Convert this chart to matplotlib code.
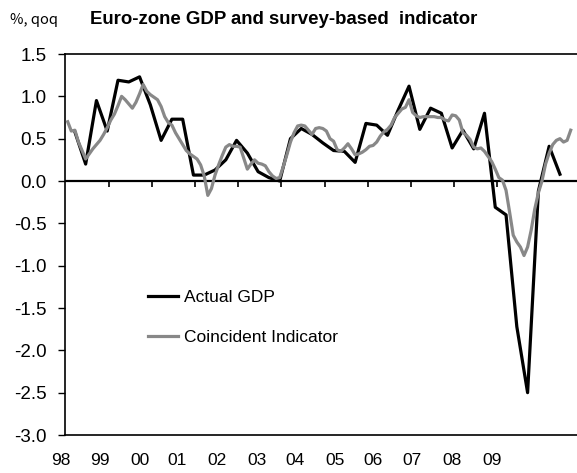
import matplotlib
matplotlib.use("Agg")
import matplotlib.pyplot as plt
import numpy as np

plt.rcParams['font.family'] = ['Liberation Sans', 'DejaVu Sans']

# quarterly GDP, % qoq (plotted at quarter-end months)
gdp = [0.58, 0.20, 0.95, 0.59, 1.19, 1.17, 1.23, 0.90, 0.48, 0.73,
       0.73, 0.07, 0.07, 0.13, 0.25, 0.48, 0.33, 0.11, 0.04, 0.00,
       0.50, 0.62, 0.55, 0.45, 0.36, 0.35, 0.22, 0.68, 0.66, 0.54,
       0.84, 1.12, 0.61, 0.86, 0.80, 0.39, 0.60, 0.38, 0.80, -0.31,
       -0.40, -1.72, -2.50, -0.12, 0.41, 0.08]

# monthly coincident indicator
ind = [0.70, 0.59, 0.60, 0.46, 0.36, 0.26, 0.32, 0.38, 0.43, 0.48,
       0.55, 0.63, 0.72, 0.79, 0.89, 1.00, 0.96, 0.91, 0.86, 0.93,
       1.03, 1.14, 1.06, 1.02, 0.99, 0.96, 0.88, 0.76, 0.69, 0.66,
       0.57, 0.50, 0.43, 0.36, 0.32, 0.29, 0.26, 0.19, 0.06, -0.17,
       -0.09, 0.07, 0.19, 0.30, 0.40, 0.43, 0.41, 0.41, 0.40, 0.27,
       0.14, 0.20, 0.25, 0.21, 0.20, 0.18, 0.11, 0.06, 0.03, 0.04,
       0.17, 0.31, 0.46, 0.57, 0.65, 0.66, 0.65, 0.60, 0.55, 0.62,
       0.63, 0.62, 0.59, 0.50, 0.47, 0.37, 0.35, 0.39, 0.44, 0.38,
       0.31, 0.32, 0.34, 0.37, 0.41, 0.42, 0.46, 0.53, 0.58, 0.61,
       0.66, 0.75, 0.80, 0.85, 0.87, 0.96, 0.81, 0.77, 0.75, 0.76,
       0.76, 0.76, 0.76, 0.75, 0.75, 0.72, 0.71, 0.78, 0.77, 0.72,
       0.57, 0.54, 0.49, 0.40, 0.38, 0.39, 0.35, 0.29, 0.23, 0.14,
       0.04, 0.01, -0.11, -0.37, -0.64, -0.72, -0.78, -0.88, -0.78, -0.58,
       -0.33, -0.14, 0.00, 0.20, 0.33, 0.43, 0.48, 0.50, 0.46, 0.48,
       0.60]

years = ['98', '99', '00', '01', '02', '03', '04', '05', '06', '07', '08', '09']

x_gdp = np.arange(len(gdp)) * 3 + 2
x_ind = np.arange(len(ind))

W, H = 577, 473
fig = plt.figure(figsize=(W / 100, H / 100), dpi=100)
ax = fig.add_axes([65 / W, 38 / H, 512 / W, 381 / H])

ax.plot(x_gdp, gdp, color='black', lw=2.3, label='Actual GDP', zorder=3)
ax.plot(x_ind, ind, color='#888888', lw=2.3, label='Coincident Indicator', zorder=4)

ax.axhline(0, color='black', lw=1.6, zorder=2)
year_starts = np.arange(1, len(years)) * 12 - 0.5
ax.vlines(year_starts, -0.065, 0, color='black', lw=1.2, zorder=2)

ax.set_xlim(-0.75, 141.75)
ax.set_ylim(-3.0, 1.5)
ax.set_yticks(np.arange(-3.0, 1.51, 0.5))
ax.set_yticklabels(['%.1f' % v for v in np.arange(-3.0, 1.51, 0.5)])
ax.set_xticks([])
ax.tick_params(axis='y', direction='out', length=5, width=1, labelsize=13.5, pad=8)
for s in ['left', 'bottom', 'top']:
    ax.spines[s].set_linewidth(1.2)
ax.spines['right'].set_visible(False)

# year labels (not aligned to the year ticks in the original)
label_px = [61, 100, 140, 177, 217, 257, 295, 335, 373, 412, 452, 492]
for px, yr in zip(label_px, years):
    fig.text(px / W, 1 - 460 / H, yr, ha='center', va='center', fontsize=12.5)

ax.legend(loc='upper left', bbox_to_anchor=(0.162, 0.382), frameon=False,
          fontsize=12.5, handlelength=1.75, handletextpad=0.3,
          labelspacing=1.45, borderpad=0, borderaxespad=0)

fig.text(90 / W, 1 - 19 / H, 'Euro-zone GDP and survey-based  indicator',
         ha='left', va='center', fontsize=13.4, fontweight='bold')
fig.text(10 / W, 1 - 20 / H, '%, qoq', ha='left', va='center', fontsize=10.5,
         family=['Noto Sans CJK JP', 'DejaVu Sans'])

fig.savefig('out.png', dpi=100)
